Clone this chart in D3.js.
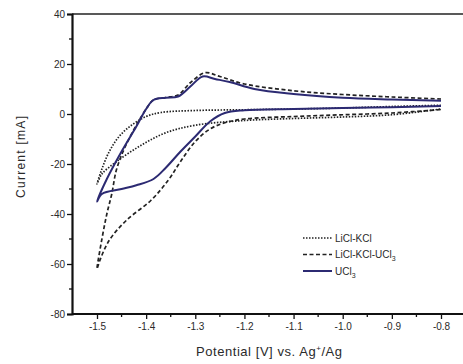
<!DOCTYPE html>
<html>
<head>
<meta charset="utf-8">
<script src="https://cdn.jsdelivr.net/npm/d3@7"></script>
<style>
  body { margin: 0; background: #fff; }
  svg text { font-family: "Liberation Sans", Arial, sans-serif !important; fill: #2a2a2a; }
</style>
</head>
<body>
<svg id="chart" width="463" height="364"></svg>
<script>
// ticks
var xTicks = [-1.5, -1.4, -1.3, -1.2, -1.1, -1.0, -0.9, -0.8];
var yTicks = [40, 20, 0, -20, -40, -60, -80];

// LiCl-KCl blank (dotted), closed loop
var blankV = [-0.8, -0.9, -1.0, -1.1, -1.2, -1.3, -1.37, -1.4, -1.43, -1.455, -1.475, -1.49, -1.5,
              -1.49, -1.46, -1.41, -1.36, -1.3, -1.2, -1.1, -1.0, -0.9, -0.8];
var blankI = [3.5, 3.0, 2.4, 2.0, 1.7, 1.4, 0.6, -1.0, -4.5, -9, -15, -22, -28,
              -24, -19, -12.5, -7.5, -4.5, -2.6, -1.8, -1.2, -0.3, 2.0];

// LiCl-KCl-UCl3 (dashed)
var saltV = [-0.8, -0.9, -1.0, -1.1, -1.2, -1.25, -1.28, -1.31, -1.335, -1.36, -1.385, -1.4, -1.44, -1.46, -1.47, -1.48, -1.49, -1.5,
             -1.495, -1.475, -1.44, -1.39, -1.355, -1.33, -1.3, -1.27, -1.24, -1.2, -1.1, -1.0, -0.9, -0.8];
var saltI = [6.0, 6.8, 7.8, 9.3, 12.0, 15.0, 16.5, 12.5, 7.6, 6.6, 5.6, 2.0, -12, -22, -32, -40, -50, -62,
             -59, -50.5, -42.5, -34.5, -26.5, -19, -11, -6, -3.5, -2.0, -1.0, -0.3, 0.4, 1.8];

// UCl3 (solid)
var uclV = [-0.8, -0.9, -1.0, -1.1, -1.18, -1.23, -1.26, -1.285, -1.31, -1.335, -1.36, -1.385, -1.4, -1.42, -1.45, -1.48, -1.5,
            -1.49, -1.45, -1.42, -1.385, -1.36, -1.33, -1.3, -1.27, -1.24, -1.2, -1.1, -1.0, -0.9, -0.8];
var uclI = [5.3, 5.8, 6.5, 8.0, 10.0, 12.8, 14.0, 15.0, 11.0, 7.0, 6.5, 5.6, 2.0, -5, -15, -26, -35,
            -32, -30, -28.5, -26, -21.5, -15, -9, -3, 0.4, 1.5, 2.0, 2.4, 2.7, 3.2];

var svg = d3.select("#chart");
var navy = "#2c2a72";
var font = "'Liberation Sans', Arial, sans-serif";

var x = d3.scaleLinear().domain([-1.5, -0.8]).range([97, 441]);
var y = d3.scaleLinear().domain([-80, 40]).range([314, 14]);
var left = 72, right = 470;

var line = d3.line()
  .x(function (d) { return x(d[0]); })
  .y(function (d) { return y(d[1]); })
  .curve(d3.curveCatmullRom.alpha(0.5));

function pairs(v, i) { return v.map(function (d, k) { return [d, i[k]]; }); }

svg.append("path").datum(pairs(blankV, blankI)).attr("d", line)
   .attr("fill", "none").attr("stroke", "#222").attr("stroke-width", 1.7)
   .attr("stroke-dasharray", "1.5,1.5");
svg.append("path").datum(pairs(saltV, saltI)).attr("d", line)
   .attr("fill", "none").attr("stroke", "#222").attr("stroke-width", 1.7)
   .attr("stroke-dasharray", "4,2.5");
svg.append("path").datum(pairs(uclV, uclI)).attr("d", line)
   .attr("fill", "none").attr("stroke", navy).attr("stroke-width", 2);

// frame: top line
svg.append("line").attr("x1", left).attr("x2", right).attr("y1", 14).attr("y2", 14)
   .attr("stroke", "#222").attr("stroke-width", 1.5);

// y axis
var yAxis = d3.axisLeft(y).tickValues(yTicks).tickSize(5).tickPadding(2)
  .tickFormat(function (d) { return d3.format("d")(d).replace("−", "-"); });
var gy = svg.append("g").attr("transform", "translate(" + left + ",0)").call(yAxis)
  .attr("font-family", font);
gy.select(".domain").attr("stroke", "#111").attr("stroke-width", 2.2);
gy.selectAll(".tick line").attr("stroke", "#111").attr("stroke-width", 1.3);
gy.selectAll(".tick text").attr("font-size", 10).attr("fill", "#2a2a2a");
var yMinor = d3.range(-70, 40, 20);
gy.selectAll(".minor").data(yMinor).enter().append("line")
  .attr("x1", -3).attr("x2", 0).attr("y1", function (d) { return y(d); }).attr("y2", function (d) { return y(d); })
  .attr("stroke", "#111").attr("stroke-width", 1.3);

// x axis
var xAxis = d3.axisBottom(x).tickValues(xTicks).tickSize(5).tickPadding(4)
  .tickFormat(function (d) { return d3.format(".1f")(d).replace("−", "-"); });
var gx = svg.append("g").attr("transform", "translate(0,314)").call(xAxis)
  .attr("font-family", font);
gx.select(".domain").attr("d", "M" + left + ",0H" + right).attr("stroke", "#111").attr("stroke-width", 2.2);
gx.selectAll(".tick line").attr("stroke", "#111").attr("stroke-width", 1.3);
gx.selectAll(".tick text").attr("font-size", 10).attr("fill", "#2a2a2a");
var xMinor = [-1.45, -1.35, -1.25, -1.15, -1.05, -0.95, -0.85];
gx.selectAll(".minor").data(xMinor).enter().append("line")
  .attr("x1", function (d) { return x(d); }).attr("x2", function (d) { return x(d); })
  .attr("y1", 0).attr("y2", 3).attr("stroke", "#111").attr("stroke-width", 1.3);

// axis titles
var xt = svg.append("text").attr("x", 269).attr("y", 356).attr("text-anchor", "middle")
  .attr("font-size", 13).attr("font-family", font)
  .attr("textLength", 146).attr("lengthAdjust", "spacing");
xt.append("tspan").text("Potential [V] vs. Ag");
xt.append("tspan").attr("dy", -5).attr("font-size", 8).text("+");
xt.append("tspan").attr("dy", 5).text("/Ag");

svg.append("text").attr("transform", "translate(25,157) rotate(-90)").attr("text-anchor", "middle")
  .attr("font-size", 12).attr("font-family", font)
  .attr("textLength", 82).attr("lengthAdjust", "spacing")
  .text("Current [mA]");

// legend
var legend = [
  { name: "LiCl-KCl", dash: "1.5,1.5", color: "#222", width: 1.7 },
  { name: "LiCl-KCl-UCl", sub: "3", dash: "4,2.5", color: "#222", width: 1.7 },
  { name: "UCl", sub: "3", dash: null, color: navy, width: 2 }
];
var lg = svg.append("g").attr("transform", "translate(303,238)");
legend.forEach(function (d, k) {
  var row = lg.append("g").attr("transform", "translate(0," + k * 16.5 + ")");
  row.append("line").attr("x1", 0).attr("x2", 29).attr("y1", 0).attr("y2", 0)
     .attr("stroke", d.color).attr("stroke-width", d.width)
     .attr("stroke-dasharray", d.dash);
  var t = row.append("text").attr("x", 32).attr("y", 3.5).attr("font-size", 10).attr("font-family", font);
  t.append("tspan").text(d.name);
  if (d.sub) t.append("tspan").attr("dy", 3).attr("font-size", 7).text(d.sub);
});
</script>
</body>
</html>
